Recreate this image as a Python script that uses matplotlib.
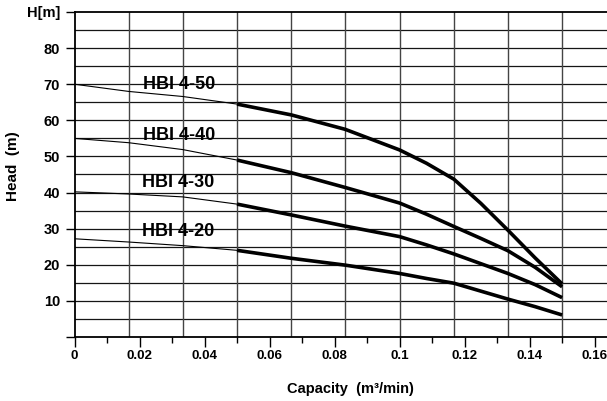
import matplotlib
matplotlib.use("Agg")
import matplotlib.pyplot as plt
import numpy as np

# Capacity points (m3/min), read at 1 m3/h steps (1/60 m3/min)
capacity = [0.0, 0.0167, 0.0333, 0.05, 0.0667, 0.0833, 0.1, 0.1083, 0.1167, 0.125, 0.1333, 0.1417, 0.15]

head_50 = [70.0, 68.0, 66.6, 64.5, 61.5, 57.5, 51.8, 48.1, 43.7, 37.0, 29.6, 21.9, 14.7]
head_40 = [55.0, 53.8, 51.9, 49.0, 45.5, 41.4, 37.1, 34.0, 30.6, 27.3, 23.9, 19.3, 13.9]
head_30 = [40.2, 39.6, 38.8, 36.8, 33.8, 30.7, 27.8, 25.5, 23.0, 20.3, 17.6, 14.5, 10.9]
head_20 = [27.2, 26.3, 25.3, 24.0, 21.8, 19.9, 17.6, 16.2, 14.9, 12.7, 10.5, 8.4, 6.1]

series_names = ["HBI 4-50", "HBI 4-40", "HBI 4-30", "HBI 4-20"]
series_heads = [head_50, head_40, head_30, head_20]
label_pos = [(0.0323, 69.8), (0.0323, 55.7), (0.0318, 42.9), (0.0318, 29.1)]

x_ticks = [0, 0.02, 0.04, 0.06, 0.08, 0.1, 0.12, 0.14, 0.16]
x_tick_labels = ["0", "0.02", "0.04", "0.06", "0.08", "0.1", "0.12", "0.14", "0.16"]
y_ticks = [0, 10, 20, 30, 40, 50, 60, 70, 80, 90]
y_tick_labels = ["", "10", "20", "30", "40", "50", "60", "70", "80", "H[m]"]

split = 3  # thin line up to 0.05, thick beyond

fig = plt.figure(figsize=(6.07, 4.01), dpi=100)
ax = fig.add_axes([74.5 / 607, 64 / 401, 532.5 / 607, 325 / 401])
ax.set_xlim(0, 0.1638)
ax.set_ylim(0, 90)

# grid
for h in np.arange(5, 90, 5):
    ax.axhline(h, color="#151515", lw=0.9, zorder=1)
for k in range(1, 10):
    ax.axvline(k / 60, color="#444444", lw=1.0, zorder=1)

for name, heads, (lx, ly) in zip(series_names, series_heads, label_pos):
    ax.plot(capacity[:split + 1], heads[:split + 1], color="black", lw=0.8, zorder=3)
    ax.plot(capacity[split:], heads[split:], color="black", lw=2.6,
            solid_capstyle="butt", solid_joinstyle="round", zorder=3)
    ax.text(lx, ly, name, ha="center", va="center", fontsize=13,
            fontweight="bold", family=["Liberation Sans", "DejaVu Sans"], zorder=4)

tick_font = ["Liberation Sans", "DejaVu Sans"]
ax.set_xticks(x_ticks)
ax.set_xticklabels(x_tick_labels)
ax.set_xticks(np.arange(0.01, 0.165, 0.02), minor=True)
ax.set_yticks(y_ticks)
ax.set_yticklabels(y_tick_labels)
for lab in ax.get_xticklabels():
    lab.set_family(tick_font)
    lab.set_fontweight("bold")
    lab.set_fontsize(9.6)
for lab in ax.get_yticklabels():
    lab.set_family(tick_font)
    lab.set_fontweight("bold")
    lab.set_fontsize(10.5)

ax.tick_params(axis="x", which="major", direction="out", length=7, width=1.0, pad=2.5)
ax.tick_params(axis="x", which="minor", direction="out", length=4.3, width=1.0)
ax.tick_params(axis="y", which="major", direction="out", length=6.5, width=1.0, pad=4)

for s in ["left", "bottom", "top"]:
    ax.spines[s].set_linewidth(1.3)
    ax.spines[s].set_color("black")
ax.spines["right"].set_visible(False)

fig.text(350 / 607, 1 - 389 / 401, "Capacity  (m\u00b3/min)", ha="center", va="center",
         fontsize=10.5, fontweight="bold", family=["Liberation Sans", "DejaVu Sans"])
fig.text(13 / 607, 1 - 166 / 401, "Head  (m)", ha="center", va="center", rotation=90,
         fontsize=11, fontweight="bold", family=["Liberation Sans", "DejaVu Sans"])

fig.savefig("out.png", dpi=100)
